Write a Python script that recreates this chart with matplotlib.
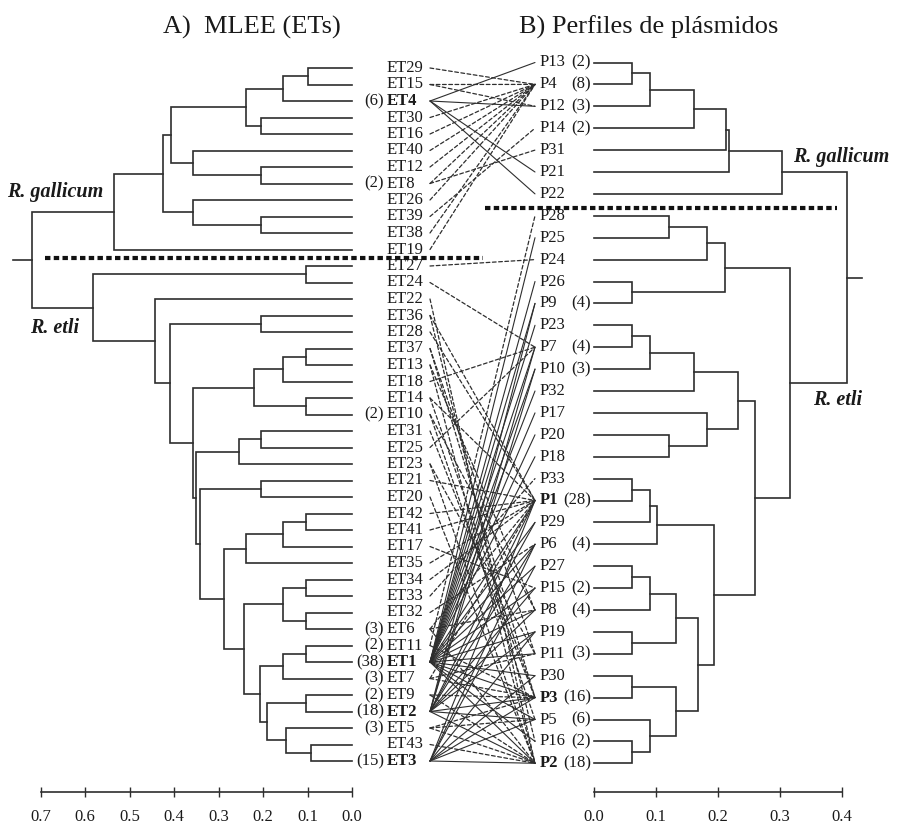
import matplotlib
matplotlib.use("Agg")
import matplotlib.pyplot as plt
from matplotlib.patches import ConnectionPatch
from matplotlib.transforms import blended_transform_factory

plt.rcParams['font.family'] = ['Liberation Serif', 'DejaVu Serif']

# ---------------- data ----------------
et_leaves = ["ET29", "ET15", "ET4", "ET30", "ET16", "ET40", "ET12", "ET8", "ET26", "ET39",
             "ET38", "ET19", "ET27", "ET24", "ET22", "ET36", "ET28", "ET37", "ET13", "ET18",
             "ET14", "ET10", "ET31", "ET25", "ET23", "ET21", "ET20", "ET42", "ET41", "ET17",
             "ET35", "ET34", "ET33", "ET32", "ET6", "ET11", "ET1", "ET7", "ET9", "ET2",
             "ET5", "ET43", "ET3"]
et_counts = {"ET4": 6, "ET8": 2, "ET10": 2, "ET6": 3, "ET11": 2, "ET1": 38, "ET7": 3,
             "ET9": 2, "ET2": 18, "ET5": 3, "ET3": 15}
et_bold = ["ET4", "ET1", "ET2", "ET3"]
# (child A, child B, distance) ; internal nodes are named n0, n1, ...
et_merges = [
    ("ET29", "ET15", 0.100), ("n0", "ET4", 0.154), ("ET30", "ET16", 0.204), ("n1", "n2", 0.238),
    ("ET12", "ET8", 0.204), ("ET40", "n4", 0.357), ("n3", "n5", 0.407), ("ET39", "ET38", 0.204),
    ("ET26", "n7", 0.357), ("n6", "n8", 0.424), ("n9", "ET19", 0.535), ("ET27", "ET24", 0.103),
    ("ET36", "ET28", 0.204), ("ET37", "ET13", 0.103), ("n13", "ET18", 0.154), ("ET14", "ET10", 0.103),
    ("n14", "n15", 0.220), ("ET31", "ET25", 0.204), ("n17", "ET23", 0.254), ("ET21", "ET20", 0.204),
    ("ET42", "ET41", 0.103), ("n20", "ET17", 0.154), ("n21", "ET35", 0.238), ("ET34", "ET33", 0.103),
    ("ET32", "ET6", 0.103), ("n23", "n24", 0.154), ("ET11", "ET1", 0.104), ("n26", "ET7", 0.154),
    ("ET9", "ET2", 0.104), ("ET43", "ET3", 0.092), ("ET5", "n29", 0.149), ("n28", "n30", 0.190),
    ("n27", "n31", 0.207), ("n25", "n32", 0.242), ("n22", "n33", 0.288), ("n19", "n34", 0.342),
    ("n18", "n35", 0.351), ("n16", "n36", 0.357), ("n12", "n37", 0.410), ("ET22", "n38", 0.443),
    ("n11", "n39", 0.581), ("n10", "n40", 0.718)]
et_root_stub = 0.762

p_leaves = ["P13", "P4", "P12", "P14", "P31", "P21", "P22", "P28", "P25", "P24", "P26", "P9",
            "P23", "P7", "P10", "P32", "P17", "P20", "P18", "P33", "P1", "P29", "P6", "P27",
            "P15", "P8", "P19", "P11", "P30", "P3", "P5", "P16", "P2"]
p_counts = {"P13": 2, "P4": 8, "P12": 3, "P14": 2, "P9": 4, "P7": 4, "P10": 3, "P1": 28,
            "P6": 4, "P15": 2, "P8": 4, "P11": 3, "P3": 16, "P5": 6, "P16": 2, "P2": 18}
p_bold = ["P1", "P3", "P2"]
# internal nodes are named m0, m1, ...
p_merges = [
    ("P13", "P4", 0.061), ("m0", "P12", 0.090), ("m1", "P14", 0.162), ("m2", "P31", 0.213),
    ("m3", "P21", 0.217), ("m4", "P22", 0.304), ("P28", "P25", 0.121), ("m6", "P24", 0.182),
    ("P26", "P9", 0.061), ("m7", "m8", 0.212), ("P23", "P7", 0.061), ("m10", "P10", 0.090),
    ("m11", "P32", 0.162), ("P20", "P18", 0.121), ("P17", "m13", 0.182), ("m12", "m14", 0.232),
    ("P33", "P1", 0.061), ("m16", "P29", 0.090), ("m17", "P6", 0.101), ("P27", "P15", 0.061),
    ("m19", "P8", 0.090), ("P19", "P11", 0.061), ("m20", "m21", 0.132), ("P30", "P3", 0.061),
    ("P16", "P2", 0.061), ("P5", "m24", 0.090), ("m23", "m25", 0.132), ("m22", "m26", 0.167),
    ("m18", "m27", 0.194), ("m15", "m28", 0.260), ("m9", "m29", 0.316), ("m5", "m30", 0.408)]
p_root_stub = 0.433

# links between ETs and plasmid profiles: (ET, P, style) ; s = solid, d = dashed
links = [
    ("ET29", "P4", "d"), ("ET15", "P4", "d"), ("ET15", "P12", "d"),
    ("ET4", "P13", "s"), ("ET4", "P12", "s"), ("ET4", "P21", "s"), ("ET4", "P22", "s"),
    ("ET30", "P4", "d"), ("ET16", "P4", "d"), ("ET40", "P4", "d"), ("ET12", "P4", "d"),
    ("ET8", "P4", "d"), ("ET8", "P31", "d"), ("ET26", "P4", "d"), ("ET39", "P14", "d"),
    ("ET38", "P4", "d"), ("ET19", "P4", "d"),
    ("ET27", "P24", "d"), ("ET24", "P7", "d"), ("ET22", "P2", "d"),
    ("ET36", "P1", "d"), ("ET36", "P16", "d"),
    ("ET28", "P1", "d"), ("ET37", "P3", "d"), ("ET37", "P11", "d"),
    ("ET13", "P8", "d"), ("ET13", "P2", "d"), ("ET18", "P7", "d"),
    ("ET14", "P1", "d"), ("ET14", "P3", "d"), ("ET10", "P8", "d"), ("ET10", "P5", "d"),
    ("ET31", "P3", "d"), ("ET25", "P7", "d"), ("ET23", "P11", "d"), ("ET23", "P2", "d"),
    ("ET21", "P1", "d"), ("ET20", "P2", "d"),
    ("ET42", "P1", "d"), ("ET41", "P1", "d"), ("ET17", "P15", "d"), ("ET35", "P1", "d"),
    ("ET34", "P1", "d"), ("ET33", "P33", "d"), ("ET32", "P6", "d"),
    ("ET6", "P1", "d"), ("ET6", "P8", "d"), ("ET6", "P2", "d"),
    ("ET11", "P28", "d"), ("ET11", "P3", "d"),
    ("ET7", "P1", "d"), ("ET7", "P11", "d"), ("ET7", "P3", "d"),
    ("ET9", "P3", "d"), ("ET9", "P2", "d"),
    ("ET5", "P3", "d"), ("ET5", "P5", "d"), ("ET5", "P2", "d"), ("ET43", "P2", "d"),
    ("ET1", "P25", "s"), ("ET1", "P26", "s"), ("ET1", "P9", "s"), ("ET1", "P23", "s"),
    ("ET1", "P7", "s"), ("ET1", "P10", "s"), ("ET1", "P32", "s"), ("ET1", "P17", "s"),
    ("ET1", "P20", "s"), ("ET1", "P18", "s"), ("ET1", "P1", "s"), ("ET1", "P29", "s"),
    ("ET1", "P6", "s"), ("ET1", "P27", "s"), ("ET1", "P15", "s"), ("ET1", "P8", "s"),
    ("ET1", "P19", "s"), ("ET1", "P11", "s"), ("ET1", "P30", "s"), ("ET1", "P3", "s"),
    ("ET1", "P5", "s"), ("ET1", "P16", "s"), ("ET1", "P2", "s"),
    ("ET2", "P9", "s"), ("ET2", "P7", "s"), ("ET2", "P10", "s"), ("ET2", "P1", "s"),
    ("ET2", "P29", "s"), ("ET2", "P6", "s"), ("ET2", "P15", "s"), ("ET2", "P8", "s"),
    ("ET2", "P19", "s"), ("ET2", "P3", "s"), ("ET2", "P5", "s"), ("ET2", "P2", "s"),
    ("ET3", "P1", "s"), ("ET3", "P6", "s"), ("ET3", "P27", "s"), ("ET3", "P19", "s"),
    ("ET3", "P30", "s"), ("ET3", "P3", "s"), ("ET3", "P5", "s"), ("ET3", "P2", "s")]

left_ticks = [0.7, 0.6, 0.5, 0.4, 0.3, 0.2, 0.1, 0.0]
right_ticks = [0.0, 0.1, 0.2, 0.3, 0.4]

title_left = "A)  MLEE (ETs)"
title_right = "B) Perfiles de plásmidos"

# ---------------- layout ----------------
W, H = 898, 832
fig = plt.figure(figsize=(W / 100, H / 100), dpi=100)
LINE = "#2e2e2e"
TXT = "#1a1a1a"

L_ZERO, L_SCALE = 352.0, 445.0          # px of distance 0, px per unit
L_Y0, L_DY = 68.0, 16.5                  # px of first leaf, px per leaf
R_ZERO, R_SCALE = 594.0, 620.0
R_Y0, R_DY = 62.5, 21.9
TOP, BOT = 40.0, 780.0


def px_axes(x0, y0, x1, y1):
    return fig.add_axes([x0 / W, 1 - y1 / H, (x1 - x0) / W, (y1 - y0) / H])


axL = px_axes(0, TOP, L_ZERO, BOT)
axL.set_xlim(L_ZERO / L_SCALE, 0)
axL.set_ylim((BOT - L_Y0) / L_DY, (TOP - L_Y0) / L_DY)
axL.axis("off")

axR = px_axes(R_ZERO, TOP, W, BOT)
axR.set_xlim(0, (W - R_ZERO) / R_SCALE)
axR.set_ylim((BOT - R_Y0) / R_DY, (TOP - R_Y0) / R_DY)
axR.axis("off")


def draw_tree(ax, leaves, merges, prefix, stub):
    pos = {name: (0.0, i) for i, name in enumerate(leaves)}
    for k, (a, b, h) in enumerate(merges):
        xa, ya = pos[a]
        xb, yb = pos[b]
        ax.plot([xa, h, h, xb], [ya, ya, yb, yb], color=LINE, lw=1.2,
                solid_joinstyle="miter", clip_on=False)
        pos[f"{prefix}{k}"] = (h, (ya + yb) / 2)
    rx, ry = pos[f"{prefix}{len(merges) - 1}"]
    ax.plot([rx, stub], [ry, ry], color=LINE, lw=1.2, clip_on=False)
    return pos


posL = draw_tree(axL, et_leaves, et_merges, "n", et_root_stub)
posR = draw_tree(axR, p_leaves, p_merges, "m", p_root_stub)

# leaf labels
for i, name in enumerate(et_leaves):
    fw = "bold" if name in et_bold else "normal"
    axL.annotate(name, xy=(0, i), xytext=(35, 0), textcoords="offset pixels",
                 ha="left", va="center", fontsize=12, fontweight=fw, color=TXT,
                 annotation_clip=False)
    if name in et_counts:
        axL.annotate(f"({et_counts[name]})", xy=(0, i), xytext=(32, 0),
                     textcoords="offset pixels", ha="right", va="center",
                     fontsize=12, color=TXT, annotation_clip=False)

for j, name in enumerate(p_leaves):
    fw = "bold" if name in p_bold else "normal"
    axR.annotate(name, xy=(0, j), xytext=(-54, 0), textcoords="offset pixels",
                 ha="left", va="center", fontsize=12, fontweight=fw, color=TXT,
                 annotation_clip=False)
    if name in p_counts:
        axR.annotate(f"({p_counts[name]})", xy=(0, j), xytext=(-3, 0),
                     textcoords="offset pixels", ha="right", va="center",
                     fontsize=12, color=TXT, annotation_clip=False)

# connecting lines
axM = px_axes(430, TOP, 535, BOT)
axM.axis("off")
trL = blended_transform_factory(axM.transAxes, axL.transData)
trR = blended_transform_factory(axM.transAxes, axR.transData)
for et, p, st in links:
    con = ConnectionPatch(xyA=(0, et_leaves.index(et)), coordsA=trL,
                          xyB=(1, p_leaves.index(p)), coordsB=trR,
                          color=LINE, lw=0.8 if st == "s" else 0.9,
                          linestyle="-" if st == "s" else (0, (3, 2)))
    fig.add_artist(con)

# separators between R. gallicum and R. etli
sepL = (11.5, 0.69, -0.294)
axL.plot([sepL[1], sepL[2]], [sepL[0], sepL[0]], color="#111111", lw=3.0,
         linestyle=(0, (1.3, 0.8)), dash_capstyle="butt", clip_on=False)
sepR = (6.65, -0.176, 0.392)
axR.plot([sepR[1], sepR[2]], [sepR[0], sepR[0]], color="#111111", lw=3.0,
         linestyle=(0, (1.3, 0.8)), dash_capstyle="butt", clip_on=False)

# species labels
sp = dict(fontsize=14.5, fontweight="bold", fontstyle="italic", color=TXT, va="center")
fig.text(7 / W, 1 - 192 / H, "R. gallicum", ha="left", **sp)
fig.text(30 / W, 1 - 328 / H, "R. etli", ha="left", **sp)
fig.text(793 / W, 1 - 157 / H, "R. gallicum", ha="left", **sp)
fig.text(813 / W, 1 - 400 / H, "R. etli", ha="left", **sp)

# titles
fig.text(252 / W, 1 - 34 / H, title_left, ha="center", va="baseline", fontsize=19, color=TXT)
fig.text(649 / W, 1 - 34 / H, title_right, ha="center", va="baseline", fontsize=19, color=TXT)

# scale bars
AX_Y = 792
sbL = px_axes(0, AX_Y - 6, L_ZERO, AX_Y)
sbL.set_xlim(L_ZERO / L_SCALE, 0)
sbR = px_axes(R_ZERO, AX_Y - 6, W, AX_Y)
sbR.set_xlim(0, (W - R_ZERO) / R_SCALE)
for sb, ticks in ((sbL, left_ticks), (sbR, right_ticks)):
    sb.patch.set_visible(False)
    for s in ("top", "left", "right"):
        sb.spines[s].set_visible(False)
    sb.spines["bottom"].set_bounds(min(ticks), max(ticks))
    sb.spines["bottom"].set_color(LINE)
    sb.spines["bottom"].set_linewidth(1.2)
    sb.set_yticks([])
    sb.set_xticks(ticks)
    sb.set_xticklabels([f"{t:.1f}" for t in ticks])
    sb.tick_params(axis="x", direction="inout", length=7, width=1.0, color=LINE,
                   labelsize=12, pad=9, labelcolor=TXT)

fig.savefig("out.png", dpi=100)
